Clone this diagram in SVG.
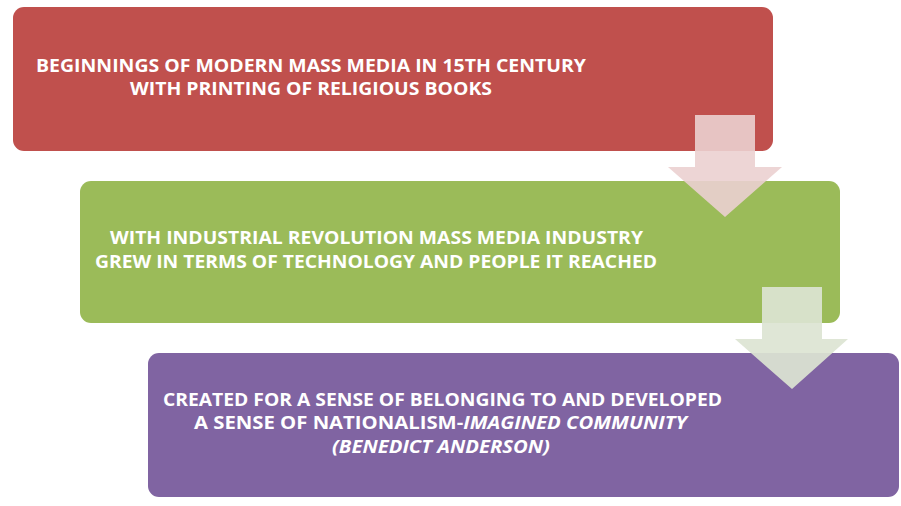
<svg xmlns="http://www.w3.org/2000/svg" width="901" height="506" viewBox="0 0 901 506">
<style>
.t{font-family:"Open Sans","Liberation Sans",sans-serif;font-weight:bold;font-size:17.5px;fill:#ffffff}
.i{font-style:italic}
</style>
<rect width="901" height="506" fill="#ffffff"/>
<g id="node1">
<rect x="13" y="7" width="760" height="144" rx="11" fill="#C0504D"/>
<text class="t" x="36" y="72" textLength="550" lengthAdjust="spacingAndGlyphs">BEGINNINGS OF MODERN MASS MEDIA IN 15TH CENTURY</text>
<text class="t" x="130" y="95" textLength="362" lengthAdjust="spacingAndGlyphs">WITH PRINTING OF RELIGIOUS BOOKS</text>
</g>
<g id="node2">
<rect x="80" y="181" width="760" height="142" rx="11" fill="#9BBB59"/>
<text class="t" x="110" y="244" textLength="533" lengthAdjust="spacingAndGlyphs">WITH INDUSTRIAL REVOLUTION MASS MEDIA INDUSTRY</text>
<text class="t" x="95" y="268" textLength="562" lengthAdjust="spacingAndGlyphs">GREW IN TERMS OF TECHNOLOGY AND PEOPLE IT REACHED</text>
</g>
<g id="node3">
<rect x="148" y="353" width="751" height="144" rx="11" fill="#8064A2"/>
<text class="t" x="163" y="406" textLength="559" lengthAdjust="spacingAndGlyphs">CREATED FOR A SENSE OF BELONGING TO AND DEVELOPED</text>
<text class="t" x="194" y="429" textLength="493" lengthAdjust="spacingAndGlyphs">A SENSE OF NATIONALISM-<tspan class="i">IMAGINED COMMUNITY</tspan></text>
<text class="t i" x="332" y="453" textLength="218" lengthAdjust="spacingAndGlyphs">(BENEDICT ANDERSON)</text>
</g>
<g id="connectors">
<polygon points="695,115 755,115 755,167 782,167 725,217 668,167 695,167" fill="#EBD0D0" fill-opacity="0.9"/>
<polygon points="762,287 822,287 822,339 848,339 792,389 735,339 762,339" fill="#DCE4D2" fill-opacity="0.92"/>
</g>
</svg>
